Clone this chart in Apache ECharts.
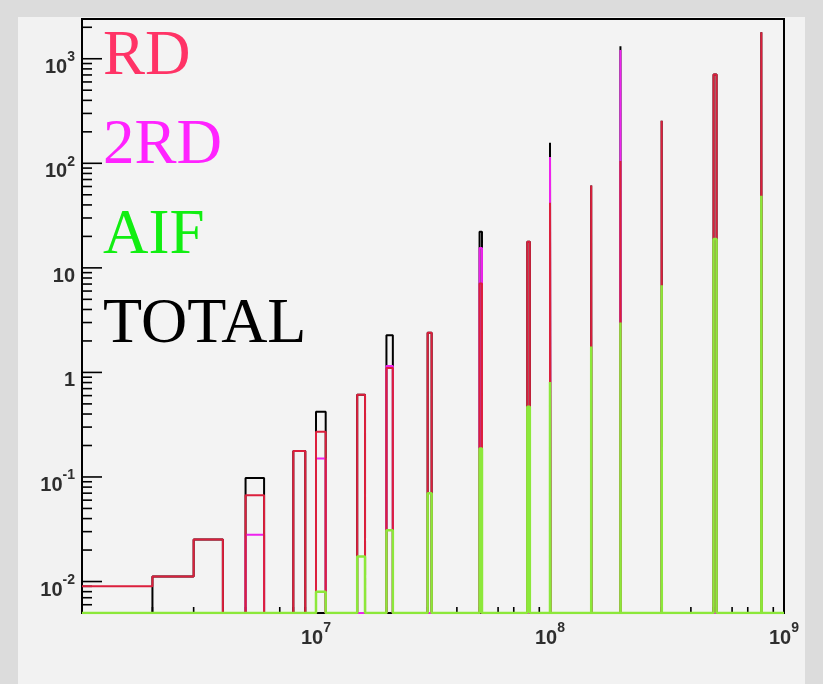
<!DOCTYPE html>
<html><head><meta charset="utf-8">
<script src="https://cdn.jsdelivr.net/npm/echarts@6/dist/echarts.min.js"></script>
<style>html,body{margin:0;padding:0;background:#dcdcdc;}#c{width:823px;height:684px;}</style>
</head><body><div id="c"></div>
<script>
// ---- data ----
const binLo = [1e6, 2e6, 3e6, 5e6, 8e6, 1e7, 1.5e7, 2e7, 3e7, 5e7, 8e7, 1e8, 1.5e8, 2e8, 3e8, 5e8, 8e8];
const binHi = [2e6, 3e6, 4e6, 6e6, 9e6, 1.1e7, 1.62e7, 2.13e7, 3.12e7, 5.12e7, 8.2e7, 1.005e8, 1.503e8, 2.004e8, 3.005e8, 5.15e8, 8.03e8];
const rdVals    = [0.009, 0.0112, 0.0252, 0.0667, 0.177, 0.27, 0.61, 1.10, 2.39, 7.1, 17.8, 42, 61.5, 105, 255, 708, 1790];
const rd2Vals   = [0, 0, 0, 0.028, 0, 0.15, 0, 1.15, 0, 15.5, 0, 115, 0, 1215, 0, 0, 0];
const aifVals   = [0, 0, 0, 0, 0, 0.008, 0.0174, 0.031, 0.070, 0.187, 0.47, 0.81, 1.77, 3.0, 6.8, 18.9, 49];
const totalVals = [0, 0.0112, 0.0252, 0.098, 0.177, 0.42, 0.61, 2.27, 2.39, 22.2, 17.8, 157, 61.5, 1320, 255, 708, 1790];
const legendNames = ['RD', '2RD', 'AIF', 'TOTAL'];
const xDecades = [1e6, 1e7, 1e8, 1e9];
const yDecades = [0.001, 0.01, 0.1, 1, 10, 100, 1000];
const minorMult = [2, 3, 4, 5, 6, 7, 8, 9];
const yTickLabels = {'-2': '{b|10}{s|-2}', '-1': '{b|10}{s|-1}', '0': '{b|1}', '1': '{b|10}', '2': '{b|10}{s|2}', '3': '{b|10}{s|3}'};
const xTickLabels = {'7': '{b|10}{s|7}', '8': '{b|10}{s|8}', '9': '{b|10}{s|9}'};

const X_MIN = 1e6, X_MAX = 1e9, Y_MIN = 0.005, Y_MAX = 2400;

function outline(vals) {
  const pts = [];
  for (let i = 0; i < binLo.length; i++) {
    const v = vals[i] > Y_MIN ? vals[i] : Y_MIN;
    const prevContig = i > 0 && binHi[i - 1] === binLo[i];
    const nextContig = i < binLo.length - 1 && binHi[i] === binLo[i + 1];
    if (i === 0 && binLo[0] > X_MIN) pts.push([X_MIN, Y_MIN]);
    if (!prevContig && !(i === 0 && binLo[0] === X_MIN)) pts.push([binLo[i], Y_MIN]);
    pts.push([binLo[i], v]);
    pts.push([binHi[i], v]);
    if (!nextContig) pts.push([binHi[i], Y_MIN]);
  }
  pts.push([X_MAX, Y_MIN]);
  return pts;
}

const xTicks = [], yTicks = [];
xDecades.forEach(function (d) {
  xTicks.push([d, Y_MIN, 12]);
  if (d < X_MAX) minorMult.forEach(function (m) { xTicks.push([d * m, Y_MIN, 6]); });
});
yDecades.forEach(function (d) {
  if (d >= Y_MIN) yTicks.push([X_MIN, d, 20]);
  minorMult.forEach(function (m) { const v = d * m; if (v > Y_MIN && v < Y_MAX) yTicks.push([X_MIN, v, 10]); });
});

function expOf(v) { const e = Math.log10(v); const r = Math.round(e); return Math.abs(e - r) < 1e-6 ? r : null; }

const chart = echarts.init(document.getElementById('c'), null, {renderer: 'canvas'});
const labelRich = {
  b: {fontFamily: 'Liberation Sans', fontWeight: 'bold', fontSize: 20, color: '#2e2e2e', verticalAlign: 'bottom', lineHeight: 23},
  s: {fontFamily: 'Liberation Sans', fontWeight: 'bold', fontSize: 14, color: '#2e2e2e', verticalAlign: 'bottom', lineHeight: 23, padding: [0, 0, 13, 0]}
};
function tickRender(isX) {
  return function (params, api) {
    const p = api.coord([api.value(0), api.value(1)]);
    const len = api.value(2);
    return {type: 'line', shape: isX ? {x1: p[0], y1: p[1], x2: p[0], y2: p[1] - len} : {x1: p[0], y1: p[1], x2: p[0] + len, y2: p[1]},
      style: {stroke: '#000', lineWidth: 1.6}};
  };
}
const lineBase = {type: 'line', showSymbol: false, symbol: 'none', animation: false, silent: true};
chart.setOption({
  backgroundColor: '#dcdcdc',
  animation: false,
  grid: {left: 82, top: 19, width: 702, height: 594, show: true, borderColor: '#000', borderWidth: 2, backgroundColor: '#f3f3f3'},
  xAxis: {type: 'log', logBase: 10, min: X_MIN, max: X_MAX,
    axisLine: {show: false}, axisTick: {show: false}, splitLine: {show: false}, minorTick: {show: false},
    axisLabel: {margin: 12, showMinLabel: true, showMaxLabel: true, rich: labelRich,
      formatter: function (v) { const e = expOf(v); return (e !== null && xTickLabels[e]) ? xTickLabels[e] : ''; }}},
  yAxis: {type: 'log', logBase: 10, min: Y_MIN, max: Y_MAX,
    axisLine: {show: false}, axisTick: {show: false}, splitLine: {show: false}, minorTick: {show: false},
    axisLabel: {margin: 7, padding: [14, 0, 0, 0], showMinLabel: true, showMaxLabel: true, rich: labelRich,
      formatter: function (v) { const e = expOf(v); return (e !== null && yTickLabels[e]) ? yTickLabels[e] : ''; }}},
  graphic: [
    {type: 'rect', z: -100, shape: {x: 18, y: 17, width: 787, height: 667}, style: {fill: '#f2f2f2'}},
    {type: 'text', z: 100, left: 103, top: 26, style: {text: legendNames[0], font: '63px "Liberation Serif"', fill: '#ff3366'}},
    {type: 'text', z: 100, left: 103, top: 115, style: {text: legendNames[1], font: '63px "Liberation Serif"', fill: '#ff22ff'}},
    {type: 'text', z: 100, left: 103, top: 205, style: {text: legendNames[2], font: '63px "Liberation Serif"', fill: '#11ee11'}},
    {type: 'text', z: 100, left: 103, top: 293, style: {text: legendNames[3], font: '64px "Liberation Serif"', fill: '#000000'}}
  ],
  series: [
    {type: 'custom', renderItem: tickRender(true), data: xTicks, z: 1, silent: true, animation: false},
    {type: 'custom', renderItem: tickRender(false), data: yTicks, z: 1, silent: true, animation: false},
    Object.assign({name: 'TOTAL', data: outline(totalVals), z: 2, lineStyle: {color: '#000000', width: 2}}, lineBase),
    Object.assign({name: '2RD', data: outline(rd2Vals), z: 3, lineStyle: {color: '#ee22ee', width: 2}}, lineBase),
    Object.assign({name: 'RD', data: outline(rdVals), z: 4, lineStyle: {color: '#dc1f3c', width: 2}}, lineBase),
    Object.assign({name: 'AIF', data: outline(aifVals), z: 5, lineStyle: {color: '#8ce83a', width: 2.5}}, lineBase)
  ]
});
</script></body></html>
